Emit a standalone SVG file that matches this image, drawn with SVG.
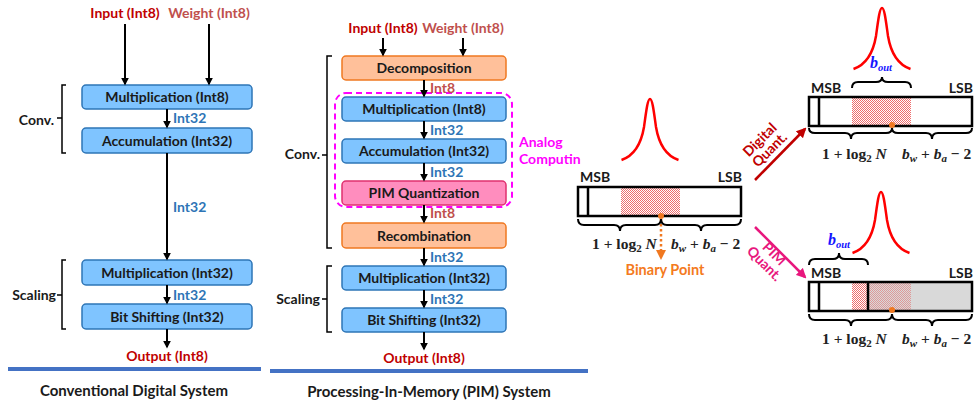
<svg xmlns="http://www.w3.org/2000/svg" width="979" height="402" viewBox="0 0 979 402">
<style>
.t{font-family:Lato,"Liberation Sans",sans-serif;font-weight:bold;font-size:14px;fill:#1a1a1a}
.c{text-anchor:middle}
.red{fill:#C00000}
.wred{fill:#C0504D}
.blu{fill:#2E75B6}
.bbox{fill:#7FC4FF;stroke:#2E75B6;stroke-width:1.5}
.obox{fill:#FFC09A;stroke:#F07820;stroke-width:1.5}
.pbox{fill:#FF8DBE;stroke:#E0306F;stroke-width:1.5}
.arr{stroke:#000;stroke-width:2;fill:none;marker-end:url(#ah)}
.brk{stroke:#000;stroke-width:1.5;fill:none}
.bar{fill:none;stroke:#000;stroke-width:2.5}
.brace{fill:none;stroke:#000;stroke-width:2}
.bell{fill:none;stroke:#FF0000;stroke-width:2.5}
.m{font-family:"Liberation Serif",serif;font-weight:bold;font-size:15.5px;fill:#222}
.i{font-style:italic}
.bo{font-family:"Liberation Serif",serif;font-weight:bold;font-style:italic;font-size:16px;fill:#1414FF}
.ttl{font-size:15px}
</style>
<defs>
<marker id="ah" viewBox="0 0 10 10" refX="8" refY="5" markerWidth="4" markerHeight="4" orient="auto"><path d="M0,0L10,5L0,10z" fill="#000"/></marker>
<marker id="ahr" viewBox="0 0 10 10" refX="8" refY="5" markerWidth="4" markerHeight="4" orient="auto"><path d="M0,0L10,5L0,10z" fill="#C00000"/></marker>
<marker id="ahp" viewBox="0 0 10 10" refX="8" refY="5" markerWidth="4" markerHeight="4" orient="auto"><path d="M0,0L10,5L0,10z" fill="#E8177D"/></marker>
<marker id="aho" viewBox="0 0 10 10" refX="8" refY="5" markerWidth="4" markerHeight="4" orient="auto"><path d="M0,0L10,5L0,10z" fill="#F07820"/></marker>
<pattern id="hatch" width="2" height="2" patternUnits="userSpaceOnUse"><rect width="1" height="1" fill="#E83C3C" fill-opacity="0.75"/><rect x="1" y="1" width="1" height="1" fill="#E83C3C" fill-opacity="0.75"/></pattern>
<path id="bellp" d="M-28.5,61 C-17,57 -9,46 -6,28 C-4,14 -2.5,0 0,0 C2.5,0 4,14 6,28 C9,46 17,57 28.5,61"/>
</defs>

<!-- Left column: conventional digital system -->
<g id="left-inputs">
<text class="t c red" x="125" y="18">Input (Int8)</text>
<text class="t c wred" x="209" y="18">Weight (Int8)</text>
</g>
<g id="l-mul8"><rect class="bbox" x="82" y="85" width="170" height="24" rx="4"/><text class="t c" x="167" y="102">Multiplication (Int8)</text></g>
<g id="l-acc"><rect class="bbox" x="82" y="128" width="170" height="25" rx="4"/><text class="t c" x="167" y="145.5">Accumulation (Int32)</text></g>
<g id="l-mul32"><rect class="bbox" x="82" y="260" width="170" height="25" rx="4"/><text class="t c" x="167" y="277.5">Multiplication (Int32)</text></g>
<g id="l-shift"><rect class="bbox" x="82" y="304" width="170" height="25" rx="4"/><text class="t c" x="167" y="321.5">Bit Shifting (Int32)</text></g>
<g id="l-conv"><path class="brk" d="M66,85H62V153H66M62,118H57"/><text class="t" x="54" y="125" text-anchor="end">Conv.</text></g>
<g id="l-scaling"><path class="brk" d="M66,260H62V329H66M62,295H57"/><text class="t" x="56" y="299.5" text-anchor="end">Scaling</text></g>
<g id="l-output"><text class="t c red" x="167" y="360.5">Output (Int8)</text></g>
<g id="l-title"><rect x="8" y="367" width="253" height="4" fill="#4472C4"/><text class="t c ttl" x="134" y="396">Conventional Digital System</text></g>

<!-- Middle column: PIM system -->
<g id="m-inputs">
<text class="t c red" x="383" y="33">Input (Int8)</text>
<text class="t c wred" x="463" y="33">Weight (Int8)</text>
</g>
<g id="m-decomp"><rect class="obox" x="342" y="56" width="164" height="24" rx="4"/><text class="t c" x="424" y="73">Decomposition</text></g>
<g id="m-analog"><rect x="335" y="93" width="177" height="114" rx="11" fill="none" stroke="#FF00FF" stroke-width="2" stroke-dasharray="6,4"/>
<text class="t" x="519" y="147" style="fill:#FF00FF">Analog</text><text class="t" x="519" y="164" style="fill:#FF00FF">Computin</text></g>
<g id="m-mul8"><rect class="bbox" x="342" y="97" width="164" height="24" rx="4"/><text class="t c" x="424" y="114">Multiplication (Int8)</text></g>
<g id="m-acc"><rect class="bbox" x="342" y="139" width="164" height="24" rx="4"/><text class="t c" x="424" y="156">Accumulation (Int32)</text></g>
<g id="m-pimq"><rect class="pbox" x="342" y="181" width="164" height="24" rx="4"/><text class="t c" x="424" y="198">PIM Quantization</text></g>
<g id="m-recomb"><rect class="obox" x="342" y="223" width="164" height="25" rx="4"/><text class="t c" x="424" y="240.5">Recombination</text></g>
<g id="m-mul32"><rect class="bbox" x="342" y="266" width="164" height="24" rx="4"/><text class="t c" x="424" y="283">Multiplication (Int32)</text></g>
<g id="m-shift"><rect class="bbox" x="342" y="308" width="164" height="24" rx="4"/><text class="t c" x="424" y="325">Bit Shifting (Int32)</text></g>
<g id="m-conv"><path class="brk" d="M332,56H327V248H332M327,155H322"/><text class="t" x="320" y="158.5" text-anchor="end">Conv.</text></g>
<g id="m-scaling"><path class="brk" d="M332,266H327V332H332M327,299H322"/><text class="t" x="320" y="303.5" text-anchor="end">Scaling</text></g>
<g id="m-output"><text class="t c red" x="424" y="363">Output (Int8)</text></g>
<g id="m-title"><rect x="270" y="369" width="318" height="4" fill="#4472C4"/><text class="t c ttl" x="429" y="397">Processing-In-Memory (PIM) System</text></g>

<!-- Connectors -->
<g id="connectors">
<path class="arr" d="M125,24V84"/>
<path class="arr" d="M209,24V84"/>
<path class="arr" d="M167,109V127"/>
<path class="arr" d="M167,153V259"/>
<path class="arr" d="M167,285V303"/>
<path class="arr" d="M167,329V347"/>
<path class="arr" d="M383,38V55"/>
<path class="arr" d="M463,38V55"/>
<path class="arr" d="M424,80V96"/>
<path class="arr" d="M424,121V138"/>
<path class="arr" d="M424,163V180"/>
<path class="arr" d="M424,205V222"/>
<path class="arr" d="M424,248V265"/>
<path class="arr" d="M424,290V307"/>
<path class="arr" d="M424,332V349"/>
<path d="M755,180L805,129" stroke="#C00000" stroke-width="2.5" fill="none" marker-end="url(#ahr)"/>
<path d="M755,227L805,277" stroke="#E8177D" stroke-width="2.5" fill="none" marker-end="url(#ahp)"/>
<path d="M661,219V258" stroke="#F07820" stroke-width="2.5" stroke-dasharray="2.5,2.5" fill="none" marker-end="url(#aho)"/>
</g>
<g id="connector-labels">
<text class="t blu" x="173" y="122.5">Int32</text>
<text class="t blu" x="173" y="212">Int32</text>
<text class="t blu" x="173" y="299.5">Int32</text>
<text class="t wred" x="430" y="92.5">Int8</text>
<text class="t blu" x="430" y="134.5">Int32</text>
<text class="t blu" x="430" y="176.5">Int32</text>
<text class="t wred" x="430" y="217.5">Int8</text>
<text class="t blu" x="430" y="261.5">Int32</text>
<text class="t blu" x="430" y="303.5">Int32</text>
<text class="t c" transform="translate(766,146) rotate(-45)" style="fill:#C00000"><tspan x="0" y="-4">Digital</tspan><tspan x="0" y="10">Quant.</tspan></text>
<text class="t c" transform="translate(768,260) rotate(45)" style="fill:#E8177D"><tspan x="0" y="-4">PIM</tspan><tspan x="0" y="10">Quant.</tspan></text>
</g>

<!-- Middle bar -->
<g id="bar-mid">
<use href="#bellp" class="bell" x="650" y="99"/>
<text class="t" x="580" y="182">MSB</text>
<text class="t" x="742" y="182" text-anchor="end">LSB</text>
<rect x="621" y="188" width="59" height="27" fill="url(#hatch)"/>
<rect class="bar" x="578" y="187" width="163" height="29"/>
<path d="M588,187V216" stroke="#000" stroke-width="2.5"/>
<circle cx="661" cy="216" r="3" fill="#F07820"/>
<path class="brace" d="M578,219Q578,225 584,225L614,225Q620,225 620,231Q620,225 626,225L655,225Q661,225 661,219Q661,225 667,225L695,225Q701,225 701,231Q701,225 707,225L735,225Q741,225 741,219"/>
<text class="m" x="592" y="249">1 + log<tspan font-size="11" dy="3">2</tspan><tspan dy="-3"> </tspan><tspan class="i">N</tspan></text>
<text class="m" x="671" y="249"><tspan class="i">b</tspan><tspan class="i" font-size="11" dy="3">w</tspan><tspan dy="-3"> + </tspan><tspan class="i">b</tspan><tspan class="i" font-size="11" dy="3">a</tspan><tspan dy="-3"> − 2</tspan></text>
<text class="t c" x="665" y="275" style="fill:#F47A20;font-size:14.5px">Binary Point</text>
</g>

<!-- Top right bar (digital quant) -->
<g id="bar-digital">
<use href="#bellp" class="bell" x="882" y="8"/>
<text class="bo" x="870" y="68">b<tspan font-size="10.5" dy="3">out</tspan></text>
<path class="brace" d="M852,88Q852,82 858,82L876,82Q882,82 882,77Q882,82 888,82L905,82Q911,82 911,88"/>
<text class="t" x="811" y="93">MSB</text>
<text class="t" x="973" y="93" text-anchor="end">LSB</text>
<rect x="852" y="98" width="59" height="27" fill="url(#hatch)"/>
<rect class="bar" x="809" y="97" width="163" height="29"/>
<path d="M819,97V126" stroke="#000" stroke-width="2.5"/>
<circle cx="892" cy="125" r="3" fill="#F07820"/>
<path class="brace" d="M809,128Q809,133 815,133L845,133Q851,133 851,139Q851,133 857,133L886,133Q892,133 892,128Q892,133 898,133L926,133Q932,133 932,139Q932,133 938,133L966,133Q972,133 972,128"/>
<text class="m" x="822" y="159">1 + log<tspan font-size="11" dy="3">2</tspan><tspan dy="-3"> </tspan><tspan class="i">N</tspan></text>
<text class="m" x="902" y="159"><tspan class="i">b</tspan><tspan class="i" font-size="11" dy="3">w</tspan><tspan dy="-3"> + </tspan><tspan class="i">b</tspan><tspan class="i" font-size="11" dy="3">a</tspan><tspan dy="-3"> − 2</tspan></text>
</g>

<!-- Bottom right bar (PIM quant) -->
<g id="bar-pim">
<use href="#bellp" class="bell" x="881" y="192"/>
<text class="bo" x="828" y="245">b<tspan font-size="10.5" dy="3">out</tspan></text>
<path class="brace" d="M809,265Q809,259 815,259L833,259Q839,259 839,253Q839,259 845,259L862,259Q868,259 868,265"/>
<text class="t" x="811" y="278">MSB</text>
<text class="t" x="973" y="278" text-anchor="end">LSB</text>
<rect x="868" y="283" width="104" height="27" fill="#D9D9D9"/>
<rect x="852" y="283" width="16" height="27" fill="url(#hatch)"/>
<rect x="868" y="283" width="43" height="27" fill="url(#hatch)" opacity="0.55"/>
<rect class="bar" x="809" y="282" width="163" height="29"/>
<path d="M819,282V311M868,282V311" stroke="#000" stroke-width="2.5"/>
<circle cx="892" cy="310" r="3" fill="#F07820"/>
<path class="brace" d="M809,314Q809,320 815,320L845,320Q851,320 851,326Q851,320 857,320L886,320Q892,320 892,314Q892,320 898,320L926,320Q932,320 932,326Q932,320 938,320L966,320Q972,320 972,314"/>
<text class="m" x="822" y="344">1 + log<tspan font-size="11" dy="3">2</tspan><tspan dy="-3"> </tspan><tspan class="i">N</tspan></text>
<text class="m" x="902" y="344"><tspan class="i">b</tspan><tspan class="i" font-size="11" dy="3">w</tspan><tspan dy="-3"> + </tspan><tspan class="i">b</tspan><tspan class="i" font-size="11" dy="3">a</tspan><tspan dy="-3"> − 2</tspan></text>
</g>
</svg>
